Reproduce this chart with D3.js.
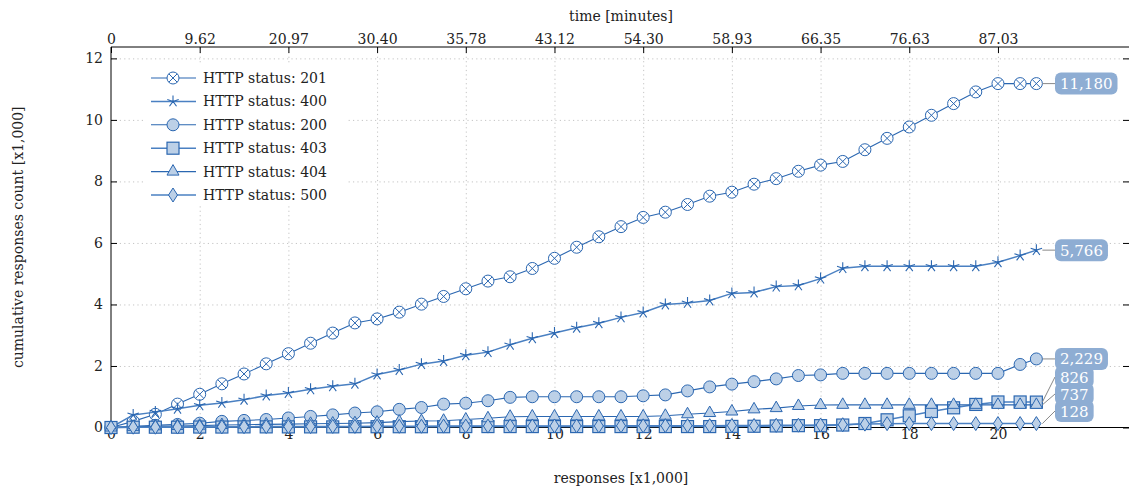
<!DOCTYPE html>
<html>
<head>
<meta charset="utf-8">
<script src="https://cdn.jsdelivr.net/npm/d3@7"></script>
<style>
  body { margin: 0; background: #fff; }
  svg { display: block; font-family: "DejaVu Serif", serif; }
  .grid line { stroke: #c4c4c4; stroke-dasharray: 1.2 3.2; }
  .grid path { display: none; }
  .axis path { display: none; }
  .axis line { stroke: #000; }
  .axis text { font-size: 14px; fill: #222; font-family: "DejaVu Serif", serif; }
</style>
</head>
<body>
<div id="chart"></div>
<script>
// responses [x1,000] at each sample
var responses = [0, 0.5, 1, 1.5, 2, 2.5, 3, 3.5, 4, 4.5, 5, 5.5, 6, 6.5, 7, 7.5, 8, 8.5, 9, 9.5,
  10, 10.5, 11, 11.5, 12, 12.5, 13, 13.5, 14, 14.5, 15, 15.5, 16, 16.5, 17, 17.5, 18, 18.5, 19, 19.5,
  20, 20.5, 20.866];

var status201 = [0, 0.2, 0.43, 0.76, 1.08, 1.42, 1.74, 2.07, 2.40, 2.74, 3.07, 3.40, 3.53, 3.75, 4.01, 4.26, 4.51, 4.76, 4.90, 5.17,
  5.50, 5.86, 6.20, 6.53, 6.83, 7.00, 7.25, 7.52, 7.65, 7.91, 8.09, 8.33, 8.53, 8.65, 9.03, 9.40, 9.77, 10.15, 10.53, 10.91,
  11.18, 11.18, 11.18];
var status400 = [0, 0.41, 0.50, 0.61, 0.72, 0.80, 0.90, 1.04, 1.12, 1.24, 1.34, 1.42, 1.72, 1.87, 2.06, 2.16, 2.35, 2.45, 2.69, 2.90,
  3.07, 3.24, 3.39, 3.58, 3.74, 4.00, 4.05, 4.13, 4.36, 4.39, 4.58, 4.62, 4.84, 5.18, 5.24, 5.24, 5.24, 5.24, 5.24, 5.24,
  5.37, 5.59, 5.766];
var status200 = [0, 0.04, 0.07, 0.10, 0.14, 0.20, 0.23, 0.26, 0.31, 0.36, 0.41, 0.47, 0.51, 0.59, 0.65, 0.76, 0.79, 0.87, 0.98, 1.00,
  1.00, 1.00, 1.00, 1.00, 1.03, 1.06, 1.19, 1.32, 1.41, 1.49, 1.58, 1.69, 1.71, 1.76, 1.76, 1.76, 1.76, 1.76, 1.76, 1.76,
  1.76, 2.05, 2.229];
var status403 = [0, 0.01, 0.01, 0.01, 0.015, 0.015, 0.02, 0.02, 0.02, 0.02, 0.02, 0.025, 0.025, 0.025, 0.025, 0.025, 0.03, 0.03, 0.03, 0.03,
  0.03, 0.03, 0.03, 0.03, 0.03, 0.03, 0.03, 0.03, 0.035, 0.04, 0.05, 0.06, 0.06, 0.08, 0.13, 0.25, 0.38, 0.52, 0.64, 0.75,
  0.83, 0.83, 0.826];
var status404 = [0, 0.02, 0.04, 0.05, 0.06, 0.08, 0.09, 0.10, 0.11, 0.12, 0.13, 0.14, 0.16, 0.19, 0.21, 0.22, 0.26, 0.30, 0.35, 0.36,
  0.36, 0.36, 0.36, 0.36, 0.36, 0.38, 0.43, 0.47, 0.52, 0.59, 0.63, 0.70, 0.73, 0.737, 0.737, 0.737, 0.737, 0.737, 0.737, 0.737,
  0.737, 0.737, 0.737];
var status500 = [0, 0.01, 0.01, 0.015, 0.02, 0.02, 0.025, 0.03, 0.03, 0.03, 0.035, 0.035, 0.04, 0.04, 0.04, 0.045, 0.045, 0.045, 0.05, 0.05,
  0.05, 0.05, 0.05, 0.055, 0.055, 0.06, 0.06, 0.06, 0.065, 0.065, 0.07, 0.075, 0.08, 0.09, 0.11, 0.125, 0.128, 0.128, 0.128, 0.128,
  0.128, 0.128, 0.128];

var seriesNames = ["HTTP status: 201", "HTTP status: 400", "HTTP status: 200", "HTTP status: 403", "HTTP status: 404", "HTTP status: 500"];
var seriesMarks = ["otimes", "star", "circle", "square", "triangle", "diamond"];
var seriesValues = [status201, status400, status200, status403, status404, status500];

var xTicks = [0, 2, 4, 6, 8, 10, 12, 14, 16, 18, 20];
var yTicks = [0, 2, 4, 6, 8, 10, 12];
var timeTickLabels = ["0", "9.62", "20.97", "30.40", "35.78", "43.12", "54.30", "58.93", "66.35", "76.63", "87.03"];

var W = 1129, H = 492;
var plotL = 111, plotR = 1131, plotT = 47, plotB = 427.5;

var svg = d3.select("#chart").append("svg").attr("width", W).attr("height", H);

var x = d3.scaleLinear().domain([0, 23]).range([plotL, plotR]);
var y = d3.scaleLinear().domain([0, 12.37]).range([plotB, plotT]);

var dark = "#2b67b1", light = "#4a80c2", fillc = "#bcd0e7";

// grid
svg.append("g").attr("class", "grid").attr("transform", "translate(0," + plotB + ")")
  .call(d3.axisBottom(x).tickValues(xTicks.slice(1)).tickSize(-(plotB - plotT)).tickFormat(""));
svg.append("g").attr("class", "grid").attr("transform", "translate(" + plotL + ",0)")
  .call(d3.axisLeft(y).tickValues(yTicks.slice(1)).tickSize(-(plotR - plotL)).tickFormat(""));

// frame
svg.append("line").attr("x1", plotL).attr("x2", plotL).attr("y1", plotT).attr("y2", plotB).attr("stroke", "#000");
svg.append("line").attr("x1", plotL).attr("x2", W).attr("y1", plotT).attr("y2", plotT).attr("stroke", "#000");
svg.append("line").attr("x1", plotL).attr("x2", W).attr("y1", plotB).attr("y2", plotB).attr("stroke", "#000");

// axes
svg.append("g").attr("class", "axis").attr("transform", "translate(0," + plotB + ")")
  .call(d3.axisBottom(x).tickValues(xTicks).tickSize(-5).tickPadding(2).tickFormat(d3.format("d")));
svg.append("g").attr("class", "axis").attr("transform", "translate(0," + plotT + ")")
  .call(d3.axisTop(x).tickValues(xTicks).tickSize(-6).tickPadding(3).tickFormat(function(d, i) { return timeTickLabels[i]; }));
svg.append("g").attr("class", "axis").attr("transform", "translate(" + plotL + ",0)")
  .call(d3.axisLeft(y).tickValues(yTicks).tickSize(-6).tickPadding(8).tickFormat(d3.format("d")));
svg.append("g").attr("class", "axis").attr("transform", "translate(" + plotR + ",0)")
  .call(d3.axisRight(y).tickValues(yTicks).tickSize(-8).tickFormat(""));

// titles
svg.append("text").attr("x", 621).attr("y", 21).attr("text-anchor", "middle")
  .style("font-size", "14px").attr("fill", "#222").text("time [minutes]");
svg.append("text").attr("x", 621).attr("y", 483).attr("text-anchor", "middle")
  .style("font-size", "14px").attr("fill", "#222").text("responses [x1,000]");
svg.append("text").attr("transform", "translate(23," + ((plotT + plotB) / 2) + ")rotate(-90)")
  .attr("text-anchor", "middle").style("font-size", "14px").attr("fill", "#222")
  .text("cumulative responses count [x1,000]");

function drawMark(g, type) {
  if (type == "otimes") {
    g.append("circle").attr("r", 6).attr("fill", "#fff").attr("stroke", dark);
    g.append("path").attr("d", "M-4.2,-4.2L4.2,4.2M-4.2,4.2L4.2,-4.2").attr("stroke", dark);
  } else if (type == "star") {
    var p = "";
    for (var k = 0; k < 5; k++) {
      var a = -Math.PI / 2 + k * 2 * Math.PI / 5;
      p += "M0,0L" + (6 * Math.cos(a)).toFixed(2) + "," + (6 * Math.sin(a)).toFixed(2);
    }
    g.append("path").attr("d", p).attr("stroke", dark).attr("stroke-width", 1.1);
  } else if (type == "circle") {
    g.append("circle").attr("r", 6).attr("fill", fillc).attr("stroke", dark);
  } else if (type == "square") {
    g.append("rect").attr("x", -6).attr("y", -6).attr("width", 12).attr("height", 12)
      .attr("fill", fillc).attr("stroke", dark).attr("stroke-width", 1.2);
  } else if (type == "triangle") {
    g.append("path").attr("d", "M0,-7L6,3.5L-6,3.5Z").attr("fill", fillc).attr("stroke", dark);
  } else if (type == "diamond") {
    g.append("path").attr("d", "M0,-7L4.5,0L0,7L-4.5,0Z").attr("fill", fillc).attr("stroke", dark);
  }
}

var line = d3.line().x(function(d) { return x(d[0]); }).y(function(d) { return y(d[1]); });

seriesValues.forEach(function(vals, s) {
  var pts = responses.map(function(r, i) { return [r, vals[i]]; });
  var g = svg.append("g");
  g.append("path").datum(pts).attr("d", line).attr("fill", "none")
    .attr("stroke", s % 2 ? light : dark).attr("stroke-width", s % 2 ? 1.5 : 1.1);
  g.selectAll("g.mk").data(pts).enter().append("g").attr("class", "mk")
    .attr("transform", function(d) { return "translate(" + x(d[0]) + "," + y(d[1]) + ")"; })
    .each(function() { drawMark(d3.select(this), seriesMarks[s]); });
});

// end labels, stacked upward so they do not overlap
var fmt = d3.format(",");
var ends = seriesValues.map(function(vals, s) {
  var last = vals[vals.length - 1];
  return { s: s, v: last, py: y(last), text: fmt(Math.round(last * 1000)) };
});
ends.sort(function(a, b) { return b.py - a.py; });
var prev = null;
ends.forEach(function(e) {
  e.ly = Math.min(e.py, plotB - 16.5);
  if (prev) e.ly = Math.min(e.ly, prev.ly - 17);
  prev = e;
});
var lastX = x(responses[responses.length - 1]);
var boxX = 1055;
ends.forEach(function(e) {
  svg.append("line").attr("x1", lastX + 6).attr("y1", e.py).attr("x2", boxX).attr("y2", e.ly)
    .attr("stroke", "#888").attr("stroke-width", 1);
  var t = svg.append("text").attr("x", boxX + 5).attr("y", e.ly + 5.5)
    .style("font-size", "15px").attr("fill", "#fff").text(e.text);
  var w = t.node().getComputedTextLength();
  svg.insert("rect", function() { return t.node(); }).attr("x", boxX).attr("y", e.ly - 11)
    .attr("width", w + 10).attr("height", 22).attr("rx", 6).attr("fill", "#8eadd3");
});

// legend
var lg = svg.append("g");
lg.append("rect").attr("x", 143).attr("y", 63).attr("width", 205).attr("height", 143).attr("fill", "#fff");
seriesNames.forEach(function(name, s) {
  var ly = 78 + s * 23.4;
  lg.append("line").attr("x1", 151).attr("x2", 196).attr("y1", ly).attr("y2", ly)
    .attr("stroke", s % 2 ? light : dark).attr("stroke-width", s % 2 ? 1.5 : 1.1);
  drawMark(lg.append("g").attr("transform", "translate(173," + ly + ")"), seriesMarks[s]);
  lg.append("text").attr("x", 203).attr("y", ly + 5).style("font-size", "14px").attr("fill", "#222").text(name);
});
</script>
</body>
</html>
